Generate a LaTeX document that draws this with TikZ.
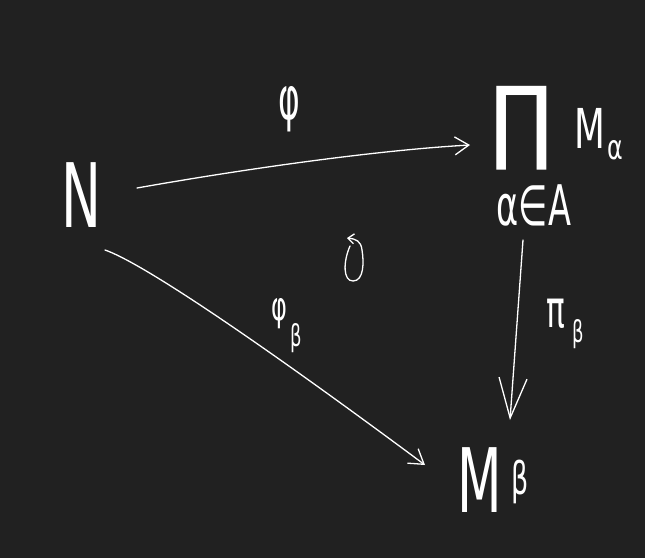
\documentclass[tikz,border=0pt]{standalone}
\usepackage{fontspec}
\setmainfont{DejaVu Sans}
\usetikzlibrary{arrows.meta}
\definecolor{bg}{RGB}{33,33,33}
\tikzset{
  lbl/.style={text=white, inner sep=0pt, anchor=center},
  arr/.style={draw=white, line width=1.3pt, line cap=round, -{Straight Barb[length=14pt,width=18pt,line width=1.3pt]}},
  longarr/.style={draw=white, line width=1.3pt, line cap=round, -{Straight Barb[length=40pt,width=28pt,line width=1.3pt]}},
}
\begin{document}
\begin{tikzpicture}[x=1pt,y=-1pt]
\fill[bg] (0,0) rectangle (645,558);
\useasboundingbox (0,0) rectangle (645,558);
% objects
\node[lbl, xscale=0.6, font=\fontsize{89}{89}\selectfont] (N) at (81,195) {N};
\node[lbl, xscale=0.9, font=\fontsize{92}{92}\selectfont] (prod) at (522,128) {∏};
\node[lbl, xscale=0.65, font=\fontsize{55}{55}\selectfont] (Ma) at (590,128) {M};
\node[lbl, xscale=0.7, font=\fontsize{34}{34}\selectfont] (Masub) at (615,150) {α};
\node[lbl, xscale=0.6, font=\fontsize{56}{56}\selectfont] (idx) at (534,205) {α∈A};
\node[lbl, xscale=0.58, font=\fontsize{89}{89}\selectfont] (Mb) at (480,480) {M};
\node[lbl, xscale=0.6, font=\fontsize{45}{45}\selectfont] (Mbsub) at (520,482) {β};
% labels
\node[lbl, xscale=0.55, font=\fontsize{60}{60}\selectfont] (phi) at (289,109) {φ};
\node[lbl, xscale=0.6, font=\fontsize{40}{40}\selectfont] (phib) at (279,314) {φ};
\node[lbl, xscale=0.6, font=\fontsize{30}{30}\selectfont] (phibsub) at (296,338) {β};
\node[lbl, xscale=0.6, font=\fontsize{52}{52}\selectfont] (pib) at (556,314) {π};
\node[lbl, xscale=0.6, font=\fontsize{30}{30}\selectfont] (pibsub) at (578,334) {β};
% connector ends
\coordinate (a1s) at (137,188);
\coordinate (a1e) at (470,145);
\coordinate (a2s) at (105,250);
\coordinate (a2e) at (425,465);
\coordinate (a3s) at (523,240);
\coordinate (a3e) at (510,420);
\draw[arr] (a1s) .. controls (250,168) and (380,150) .. (a1e);
\draw[arr] (a2s) .. controls (140,262) and (250,335) .. (a2e);
\draw[longarr] (a3s) -- (a3e);
% commutativity symbol
\coordinate (c1) at (350,246);
\coordinate (c2) at (347,238);
\draw[white, line width=1.3pt, line cap=round, -{Straight Barb[length=6pt,width=10pt,line width=1.3pt]}]
  (c1) .. controls (343,262) and (343,281) .. (353,281)
  .. controls (364,281) and (364,262) .. (362,250)
  .. controls (361,241) and (356,239) .. (c2);
\end{tikzpicture}
\end{document}
